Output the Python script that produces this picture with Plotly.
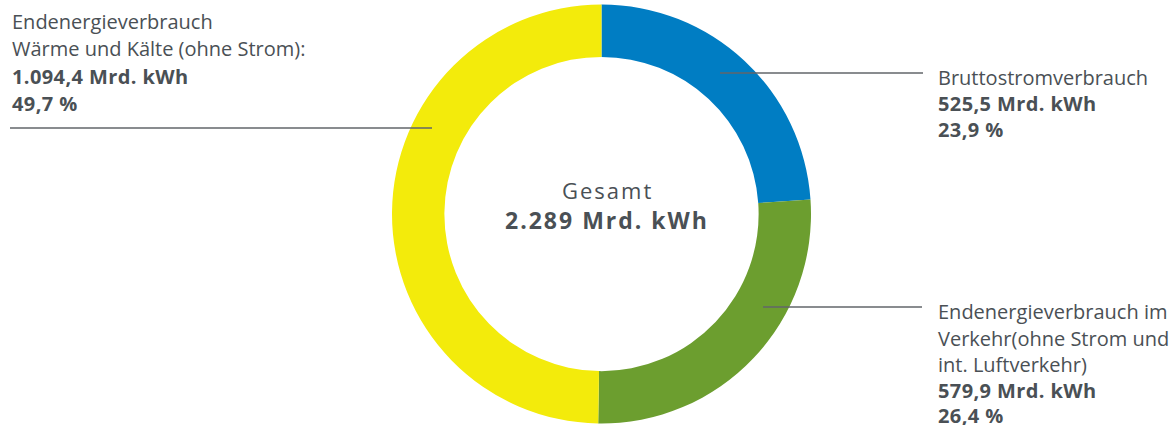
import plotly.graph_objects as go

# Anteile am Endenergieverbrauch (Mrd. kWh)
categories = ["Bruttostromverbrauch",
              "Endenergieverbrauch im Verkehr",
              "Endenergieverbrauch Wärme und Kälte"]
values = [525.5, 579.9, 1094.4]
colors = ["#007dc3", "#6c9e2f", "#f3eb0b"]

# Beschriftungen: (x, baseline y, text, fett)
label_lines = [
    (10, 28, "Endenergieverbrauch", False),
    (10, 55, "Wärme und Kälte (ohne Strom):", False),
    (10, 83, "1.094,4 Mrd. kWh", True),
    (10, 110, "49,7 %", True),
    (936, 84, "Bruttostromverbrauch", False),
    (936, 110, "525,5 Mrd. kWh", True),
    (936, 136, "23,9 %", True),
    (936, 318, "Endenergieverbrauch im", False),
    (936, 345, "Verkehr(ohne Strom und", False),
    (936, 371, "int. Luftverkehr)", False),
    (936, 397, "579,9 Mrd. kWh", True),
    (936, 422, "26,4 %", True),
]
leader_lines = [(10, 432, 128), (720, 923, 73), (763, 922, 307)]

W, H = 1171, 425
TXT = "#4a5055"
FONT = "Open Sans"

fig = go.Figure()
fig.add_trace(go.Pie(
    labels=categories, values=values,
    marker=dict(colors=colors, line=dict(width=0)),
    hole=0.75, sort=False, direction="clockwise", rotation=0,
    textinfo="none", hoverinfo="label+value+percent",
    domain=dict(x=[392 / W, 811 / W], y=[1 - 423.5 / H, 1 - 4.5 / H]),
    showlegend=False,
))

for x0, x1, y in leader_lines:
    fig.add_shape(type="line", x0=x0, x1=x1, y0=y, y1=y, xref="x", yref="y",
                  line=dict(color="#62666a", width=1.5))

for x, base, txt, bold in label_lines:
    if bold:
        txt = f"<b><span style='letter-spacing:0.4px'>{txt}</span></b>"
    fig.add_annotation(x=x, y=base - 7, xref="x", yref="y", xanchor="left", yanchor="middle",
                       text=txt, showarrow=False,
                       font=dict(family=FONT, size=20, color=TXT))

fig.add_annotation(x=607, y=190, xref="x", yref="y", showarrow=False,
                   text="<span style='letter-spacing:2px'>Gesamt</span>",
                   font=dict(family=FONT, size=22, color=TXT))
fig.add_annotation(x=607, y=220, xref="x", yref="y", showarrow=False,
                   text="<b><span style='letter-spacing:2px'>2.289 Mrd. kWh</span></b>",
                   font=dict(family=FONT, size=23, color=TXT))

fig.update_xaxes(range=[0, W], visible=False, fixedrange=True)
fig.update_yaxes(range=[H, 0], visible=False, fixedrange=True)
fig.update_layout(width=W, height=H, margin=dict(l=0, r=0, t=0, b=0),
                  paper_bgcolor="white", plot_bgcolor="white")

fig.write_html("out.html", config={"displayModeBar": False},
               post_script="document.body.style.margin='0';")
